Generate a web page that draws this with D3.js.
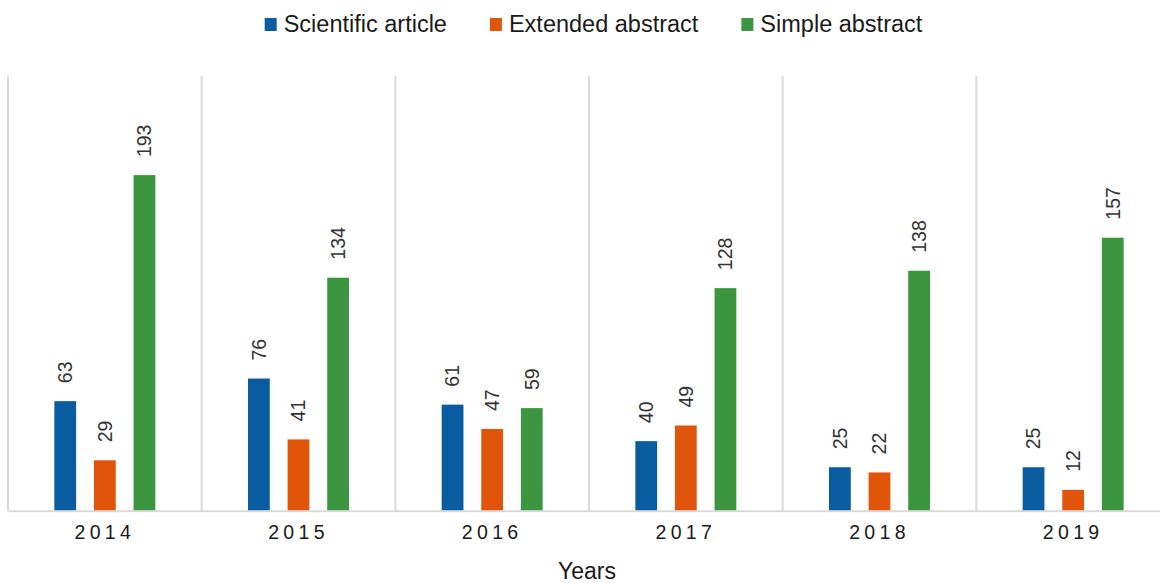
<!DOCTYPE html>
<html>
<head>
<meta charset="utf-8">
<script src="https://cdn.jsdelivr.net/npm/d3@7"></script>
<style>
  body { margin: 0; background: #fff; }
  svg { display: block; font-family: "Liberation Sans", Arial, sans-serif; }
</style>
</head>
<body>
<div id="chart"></div>
<script>
const years = ["2014", "2015", "2016", "2017", "2018", "2019"]
const seriesNames = ["Scientific article", "Extended abstract", "Simple abstract"]
const scientific = [63, 76, 61, 40, 25, 25]
const extended = [29, 41, 47, 49, 22, 12]
const simple = [193, 134, 59, 128, 138, 157]
const seriesColors = ["#0a5ca0", "#e0550a", "#3b963f"]

const width = 1160
const height = 583

const values = [scientific, extended, simple]
const rows = years.flatMap((yr, i) =>
  seriesNames.map((s, j) => ({ year: yr, series: s, value: values[j][i] })))

const svg = d3.select("#chart")
              .append("svg")
              .attr("width", width)
              .attr("height", height)

// the plot runs a little past the right edge of the picture
const x = d3.scaleBand()
            .domain(years)
            .range([8, 1170])
            .padding(0)

const xInner = d3.scaleBand()
                 .domain(seriesNames)
                 .range([0, x.bandwidth()])
                 .paddingInner(0.45)
                 .paddingOuter(1.17)

const y = d3.scaleLinear()
            .domain([0, 250])
            .range([510.7, 76])

const color = d3.scaleOrdinal(seriesNames, seriesColors)

// category separators
svg.append("g")
   .selectAll("line")
   .data(years.concat(["end"]))
   .enter()
   .append("line")
   .attr("x1", (d, i) => x.range()[0] + i * x.step())
   .attr("x2", (d, i) => x.range()[0] + i * x.step())
   .attr("y1", y(250))
   .attr("y2", y(0))
   .attr("stroke", "#d9d9d9")
   .attr("stroke-width", 2)

// bars
const bars = svg.append("g")
                .selectAll("g")
                .data(rows)
                .enter()
                .append("g")

bars.append("rect")
    .attr("x", d => x(d.year) + xInner(d.series))
    .attr("y", d => y(d.value))
    .attr("width", xInner.bandwidth())
    .attr("height", d => y(0) - y(d.value))
    .attr("fill", d => color(d.series))

bars.append("text")
    .attr("transform", d => "translate(" + (x(d.year) + xInner(d.series) + xInner.bandwidth() / 2) + "," + (y(d.value) - 18) + ") rotate(-90)")
    .attr("dy", "0.35em")
    .attr("font-size", 19.5)
    .attr("fill", "#333")
    .text(d => d.value)

// x axis
const xAxis = svg.append("g")
                 .attr("transform", "translate(0," + y(0) + ")")
                 .call(d3.axisBottom(x).tickSize(0).tickPadding(14))

xAxis.select(".domain")
     .attr("stroke", "#d9d9d9")
     .attr("stroke-width", 2)

xAxis.selectAll("text")
     .attr("font-size", 19.5)
     .attr("fill", "#1a1a1a")
     .style("letter-spacing", "4.3px")

svg.append("text")
   .attr("x", 587)
   .attr("y", 579)
   .attr("text-anchor", "middle")
   .attr("font-size", 23)
   .attr("fill", "#1a1a1a")
   .text("Years")

// legend
const legend = svg.append("g")
const items = legend.selectAll("g")
                    .data(seriesNames)
                    .enter()
                    .append("g")

items.append("rect")
     .attr("width", 12)
     .attr("height", 13)
     .attr("y", 18)
     .attr("fill", d => color(d))

items.append("text")
     .attr("x", 19)
     .attr("y", 31.5)
     .attr("font-size", 23.5)
     .attr("fill", "#1a1a1a")
     .text(d => d)

let offset = 0
const widths = []
items.each(function() {
  widths.push(19 + d3.select(this).select("text").node().getComputedTextLength())
})
const totalW = d3.sum(widths) + 43 * (widths.length - 1)
offset = 593.5 - totalW / 2
items.attr("transform", (d, i) => {
  const t = "translate(" + offset + ",0)"
  offset += widths[i] + 43
  return t
})
</script>
</body>
</html>
